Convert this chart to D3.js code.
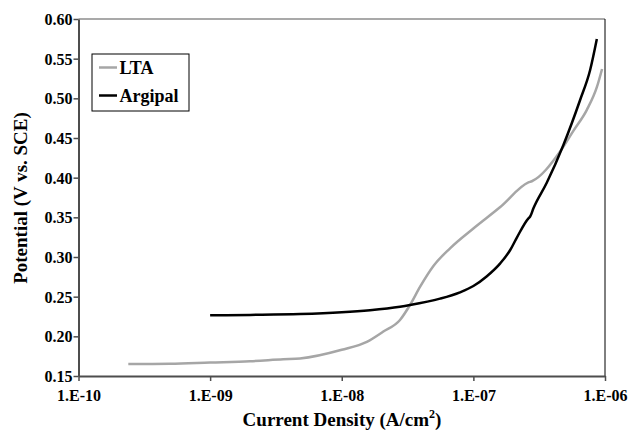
<!DOCTYPE html>
<html>
<head>
<meta charset="utf-8">
<script src="https://cdn.jsdelivr.net/npm/d3@7"></script>
<style>
html,body{margin:0;padding:0;background:#fff;}
svg{display:block;}
svg text{font-family:"Liberation Serif","Times New Roman",Tinos,"DejaVu Serif",serif !important;font-weight:bold;}
</style>
</head>
<body>
<svg id="chart" width="630" height="435"></svg>
<script>
// Data (current density in A/cm2, potential in V vs SCE)
const ltaCurrent = [2.39e-10, 4.95e-10, 1.0e-9, 2.01e-9, 3.6e-9, 4.82e-9, 1.0e-8, 1.55e-8, 2.07e-8, 2.77e-8, 3.30e-8, 3.94e-8, 4.97e-8, 6.65e-8, 1.0e-7, 1.60e-7, 2.62e-7, 2.78e-7, 4.56e-7, 5.75e-7, 7.28e-7, 8.67e-7, 9.5e-7];
const ltaPotential = [0.165, 0.1655, 0.167, 0.1685, 0.171, 0.172, 0.183, 0.193, 0.206, 0.2206, 0.2395, 0.2626, 0.2887, 0.311, 0.336, 0.363, 0.394, 0.3955, 0.433, 0.459, 0.4855, 0.514, 0.537];
const argCurrent = [1.0e-9, 2.01e-9, 4.82e-9, 1.0e-8, 1.64e-8, 2.77e-8, 3.30e-8, 5.58e-8, 7.91e-8, 1.0e-7, 1.26e-7, 1.60e-7, 1.90e-7, 2.14e-7, 2.62e-7, 2.70e-7, 2.86e-7, 3.61e-7, 4.83e-7, 6.47e-7, 7.71e-7, 8.67e-7];
const argPotential = [0.2265, 0.227, 0.228, 0.2303, 0.233, 0.2374, 0.2395, 0.2475, 0.2555, 0.2634, 0.2755, 0.292, 0.3085, 0.3245, 0.3488, 0.351, 0.3614, 0.3935, 0.4412, 0.4979, 0.5357, 0.5748];
const xTicks = [1e-10, 1e-9, 1e-8, 1e-7, 1e-6];
const xTickLabels = ["1.E-10", "1.E-09", "1.E-08", "1.E-07", "1.E-06"];
const yTicks = [0.15, 0.20, 0.25, 0.30, 0.35, 0.40, 0.45, 0.50, 0.55, 0.60];
const seriesNames = ["LTA", "Argipal"];

const svg = d3.select("#chart");
const L = 78.5, R = 605, T = 19, B = 376;
const x = d3.scaleLog().domain([1e-10, 1e-6]).range([L, R]);
const y = d3.scaleLinear().domain([0.15, 0.60]).range([B, T]);
const axisColor = "#4d4d4d";

// plot frame (top gray, right black)
svg.append("line").attr("x1", L).attr("x2", R).attr("y1", T).attr("y2", T)
  .attr("stroke", "#8c8c8c").attr("stroke-width", 1.5);
svg.append("line").attr("x1", R).attr("x2", R).attr("y1", T).attr("y2", B)
  .attr("stroke", "#000").attr("stroke-width", 1);

// y axis
const gy = svg.append("g").attr("transform", `translate(${L},0)`)
  .call(d3.axisLeft(y).tickValues(yTicks).tickFormat(d3.format(".2f")).tickSize(5).tickSizeOuter(0));
gy.attr("font-family", null).attr("font-size", null);
gy.select(".domain").attr("stroke", axisColor).attr("stroke-width", 2);
gy.selectAll(".tick line").attr("stroke", axisColor).attr("stroke-width", 1.5);
gy.selectAll(".tick text").attr("x", -6).attr("dy", "0.35em")
  .attr("font-size", 16).attr("fill", "#000");

// x axis
const gx = svg.append("g").attr("transform", `translate(0,${B})`)
  .call(d3.axisBottom(x).tickValues(xTicks).tickFormat((d, i) => xTickLabels[i]).tickSize(5).tickSizeOuter(0));
gx.attr("font-family", null).attr("font-size", null);
gx.select(".domain").attr("stroke", axisColor).attr("stroke-width", 2);
gx.selectAll(".tick line").attr("stroke", axisColor).attr("stroke-width", 1.5);
gx.selectAll(".tick text").attr("y", 24.5).attr("dy", 0)
  .attr("font-size", 16).attr("fill", "#000");

// lines
const line = d3.line().x(d => x(d[0])).y(d => y(d[1])).curve(d3.curveMonotoneX);
const lta = ltaCurrent.map((c, i) => [c, ltaPotential[i]]);
const arg = argCurrent.map((c, i) => [c, argPotential[i]]);
svg.append("path").datum(lta).attr("d", line).attr("fill", "none")
  .attr("stroke", "#a6a6a6").attr("stroke-width", 2.5).attr("stroke-linejoin", "round");
svg.append("path").datum(arg).attr("d", line).attr("fill", "none")
  .attr("stroke", "#000").attr("stroke-width", 2.5).attr("stroke-linejoin", "round");

// legend
const lg = svg.append("g");
lg.append("rect").attr("x", 92).attr("y", 54).attr("width", 97).attr("height", 57)
  .attr("fill", "#fff").attr("stroke", "#000").attr("stroke-width", 1);
const legColors = ["#a6a6a6", "#000"];
const legY = [67.5, 95.5];
seriesNames.forEach((n, i) => {
  lg.append("line").attr("x1", 99).attr("x2", 117).attr("y1", legY[i]).attr("y2", legY[i])
    .attr("stroke", legColors[i]).attr("stroke-width", 2.5);
  lg.append("text").attr("x", 119.5).attr("y", legY[i] + 6.3).attr("font-size", 18).text(n);
});

// axis titles
const xt = svg.append("text").attr("x", 342).attr("y", 426).attr("text-anchor", "middle").attr("font-size", 19);
xt.append("tspan").text("Current Density (A/cm");
xt.append("tspan").attr("font-size", 12).attr("dy", -8).text("2");
xt.append("tspan").attr("dy", 8).text(")");

svg.append("text").attr("transform", "translate(27,198) rotate(-90)")
  .attr("text-anchor", "middle").attr("font-size", 19).text("Potential (V vs. SCE)");
</script>
</body>
</html>
